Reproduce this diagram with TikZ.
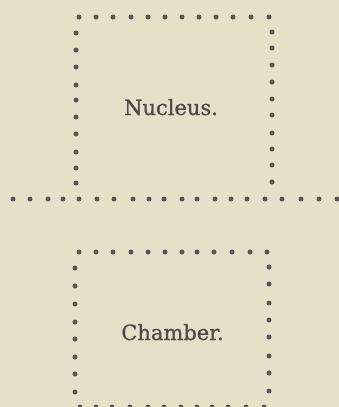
\documentclass[tikz,border=0pt]{standalone}
\usepackage{fontspec}
\newfontfamily\labelfont[FakeBold=1]{DejaVu Serif}
\definecolor{paper}{RGB}{230,224,201}
\definecolor{ink}{RGB}{92,84,86}
\definecolor{txt}{RGB}{80,74,76}
\tikzset{
  pt/.style={fill=ink, draw=none},
  lbl/.style={text=txt, font=\labelfont\fontsize{21}{24}\selectfont, inner sep=0pt, anchor=base}
}
\begin{document}
\begin{tikzpicture}[x=1pt,y=-1pt]
\fill[paper] (0,0) rectangle (339,407);
\useasboundingbox (0,0) rectangle (339,407);
% top box: top row
\foreach \x in {79,96,113,131,148,165,182,199,216,233,251,269} \fill[pt] (\x,17) circle (2.5);
% top box: left column
\foreach \y in {33,50,67,85,100,117,134,152,168,183} \fill[pt] (76,\y) circle (2.5);
% top box: right column
\foreach \y in {32,48,65,82,99,115,133,149,165,182} \fill[pt] (272,\y) circle (2.5);
% separator line
\foreach \x in {13,30,48,63,79,97,114,133,149,164,182,197,215,231,247,265,282,301,319,337} \fill[pt] (\x,199) circle (2.5);
% bottom box: top row
\foreach \x in {79,96,113,131,148,165,182,197,214,232,250,267} \fill[pt] (\x,252) circle (2.5);
% bottom box: left column
\foreach \y in {268,286,304,322,339,357,374,392} \fill[pt] (75,\y) circle (2.5);
% bottom box: right column
\foreach \y in {267,284,303,320,337,356,373,391} \fill[pt] (269,\y) circle (2.5);
% bottom box: bottom row
\foreach \x in {80,96,112,130,148,164,181,197,212,228,246,264} \fill[pt] (\x,407) circle (2.5);
% labels
\node[lbl] (nucleus) at (171,115) {Nucleus.};
\node[lbl] (chamber) at (172.5,340) {Chamber.};
\end{tikzpicture}
\end{document}
